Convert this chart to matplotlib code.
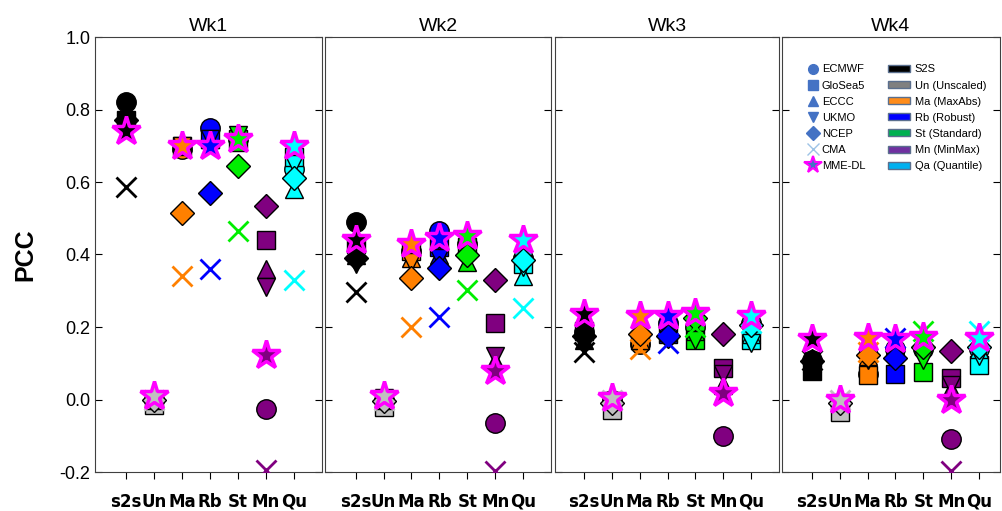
import matplotlib
matplotlib.use("Agg")
import matplotlib.pyplot as plt
from matplotlib.lines import Line2D
from matplotlib.patches import Patch
import numpy as np

weeks = ["Wk1", "Wk2", "Wk3", "Wk4"]
categories = ["s2s", "Un", "Ma", "Rb", "St", "Mn", "Qu"]
models = ["ECMWF", "GloSea5", "ECCC", "UKMO", "NCEP", "CMA", "MME-DL"]

# PCC values per week: rows = categories, cols = models
wk1 = [
    [0.82, 0.77, 0.77, 0.76, 0.77, 0.585, 0.74],
    [0.00, -0.015, 0.00, 0.00, 0.00, 0.00, 0.01],
    [0.69, 0.70, 0.71, 0.70, 0.515, 0.34, 0.70],
    [0.75, 0.72, 0.72, 0.72, 0.57, 0.36, 0.70],
    [0.72, 0.72, 0.71, 0.73, 0.645, 0.465, 0.72],
    [-0.027, 0.44, 0.36, 0.31, 0.533, -0.195, 0.124],
    [0.635, 0.67, 0.58, 0.65, 0.61, 0.33, 0.70],
]
wk2 = [
    [0.49, 0.43, 0.40, 0.375, 0.39, 0.296, 0.44],
    [0.00, -0.02, 0.00, 0.005, -0.005, 0.00, 0.01],
    [0.41, 0.41, 0.39, 0.38, 0.336, 0.20, 0.43],
    [0.465, 0.42, 0.40, 0.39, 0.363, 0.227, 0.445],
    [0.43, 0.42, 0.38, 0.41, 0.40, 0.303, 0.45],
    [-0.064, 0.212, 0.105, 0.12, 0.331, -0.198, 0.078],
    [0.39, 0.375, 0.34, 0.365, 0.385, 0.253, 0.44],
]
wk3 = [
    [0.185, 0.19, 0.165, 0.15, 0.175, 0.13, 0.235],
    [0.00, -0.03, 0.00, -0.005, -0.01, 0.00, 0.005],
    [0.152, 0.165, 0.165, 0.16, 0.18, 0.14, 0.23],
    [0.21, 0.18, 0.185, 0.17, 0.175, 0.155, 0.23],
    [0.20, 0.165, 0.19, 0.165, 0.225, 0.20, 0.239],
    [-0.10, 0.087, 0.04, 0.07, 0.18, -0.25, 0.018],
    [0.21, 0.165, 0.18, 0.155, 0.205, 0.21, 0.23],
]
wk4 = [
    [0.11, 0.08, 0.10, 0.09, 0.105, 0.11, 0.166],
    [-0.01, -0.035, 0.00, -0.01, -0.01, 0.00, 0.00],
    [0.07, 0.068, 0.12, 0.11, 0.124, 0.13, 0.17],
    [0.14, 0.07, 0.15, 0.11, 0.115, 0.17, 0.166],
    [0.14, 0.075, 0.16, 0.11, 0.145, 0.19, 0.172],
    [-0.11, 0.06, 0.03, 0.04, 0.133, -0.198, 0.00],
    [0.14, 0.095, 0.14, 0.12, 0.145, 0.19, 0.17],
]
all_weeks = [wk1, wk2, wk3, wk4]

cat_colors = ["black", "#c0c0c0", "#ff8000", "#0000ff", "#00ee00", "#800080", "#00ffff"]
markers = ["o", "s", "^", "v", "D", "x", "*"]
msizes = [14, 13, 13, 13, 12, 14, 21]

fig = plt.figure(figsize=(10.03, 5.11), dpi=100)
lefts = [95, 325, 555, 782]
rights = [322, 551, 779, 1000]
xlims = [(-0.12, 8.0), (-0.1, 8.0), (-0.04, 8.0), (-0.07, 7.75)]
bottom = (511 - 472) / 511
top = (511 - 37) / 511

x = np.arange(1, len(categories) + 1)

for w in range(4):
    ax = fig.add_axes([lefts[w] / 1003, bottom, (rights[w] - lefts[w]) / 1003, top - bottom])
    data = all_weeks[w]
    for c in range(len(categories)):
        for m in range(len(models)):
            val = data[c][m]
            if markers[m] == "x":
                ax.plot(x[c], val, marker="x", ms=msizes[m], mew=2, color=cat_colors[c],
                        ls="none", zorder=3 + m)
            elif markers[m] == "*":
                ax.plot(x[c], val, marker="*", ms=msizes[m], mfc=cat_colors[c], mec="#ff00ff",
                        mew=2.5, ls="none", zorder=3 + m)
            else:
                ax.plot(x[c], val, marker=markers[m], ms=msizes[m], mfc=cat_colors[c], mec="black",
                        mew=1, ls="none", zorder=3 + m)
    ax.set_xlim(*xlims[w])
    ax.set_ylim(-0.2, 1.0)
    ax.set_xticks(x)
    ax.set_xticklabels(categories, fontsize=12, fontweight="bold",
                       family=["Liberation Sans Narrow", "DejaVu Sans"])
    ax.set_yticks(np.arange(-0.2, 1.01, 0.2))
    ax.tick_params(axis="x", direction="out", length=5, pad=10)
    ax.tick_params(axis="y", direction="in", length=5, left=True, right=True)
    if w == 0:
        ax.set_yticklabels([f"{v:.1f}" for v in np.arange(-0.2, 1.01, 0.2)],
                           fontsize=13, family="Liberation Sans")
        ax.set_ylabel("PCC", fontsize=18, fontweight="bold", family="Liberation Sans", labelpad=16)
    else:
        ax.set_yticklabels([])
    ax.set_title(weeks[w], fontsize=14, family="Liberation Sans", pad=4)
    for s in ax.spines.values():
        s.set_color("#404040")

    if w == 3:
        blue = "#4472c4"
        h1 = [Line2D([], [], marker=mk, ls="none", color=blue, ms=7) for mk in ["o", "s", "^", "v", "D"]]
        h1.append(Line2D([], [], marker="x", ls="none", color="#9dc3e6", ms=8, mew=1))
        h1.append(Line2D([], [], marker="*", ls="none", mfc=blue, mec="#ff00ff", mew=1.5, ms=13))
        patch_colors = ["black", "#808080", "#ff8c1a", "#0000ff", "#00b050", "#7030a0", "#00b0f0"]
        h2 = [Patch(facecolor=pc, edgecolor="#5a6f8e", linewidth=1) for pc in patch_colors]
        l1 = ax.legend(h1, models, loc="upper left", bbox_to_anchor=(0.07, 0.96), frameon=False,
                       handlelength=1.0, handletextpad=0.3, labelspacing=0.55,
                       prop={"family": "Liberation Sans", "size": 8})
        ax.add_artist(l1)
        ax.legend(h2, ["S2S", "Un (Unscaled)", "Ma (MaxAbs)", "Rb (Robust)", "St (Standard)",
                       "Mn (MinMax)", "Qa (Quantile)"],
                  loc="upper left", bbox_to_anchor=(0.44, 0.96), frameon=False,
                  handlelength=2.0, handleheight=0.6, handletextpad=0.4, labelspacing=0.55,
                  prop={"family": "Liberation Sans", "size": 8})

fig.savefig("out.png", dpi=100)
